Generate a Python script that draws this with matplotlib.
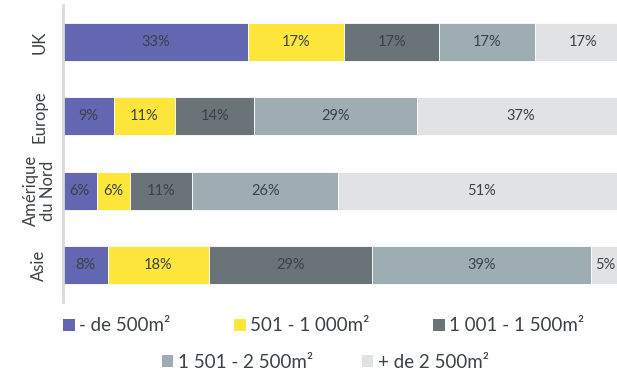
import matplotlib.pyplot as plt
from matplotlib.patches import Patch

# surface breakdown by region, in percent
regions = ['UK', 'Europe', 'Amérique\ndu Nord', 'Asie']
bands = ['- de 500m²', '501 - 1 000m²', '1 001 - 1 500m²',
         '1 501 - 2 500m²', '+ de 2 500m²']
under_500 = [33, 9, 6, 8]
from_501 = [17, 11, 6, 18]
from_1001 = [17, 14, 11, 29]
from_1501 = [17, 29, 26, 39]
over_2500 = [17, 37, 51, 5]

series = [under_500, from_501, from_1001, from_1501, over_2500]
colors = ['#6366b0', '#ffe63a', '#6a7478', '#9dadb2', '#e1e2e4']
text_color = '#3c4248'

plt.rcParams['font.family'] = ['Lato', 'DejaVu Sans']

fig = plt.figure(figsize=(6.17, 3.78), dpi=100)
ax = fig.add_axes([0.102, 0.201, 0.898, 0.786])

ypos = list(range(len(regions)))
left = [0] * len(regions)
for vals, col in zip(series, colors):
    bars = ax.barh(ypos, vals, left=left, height=0.51, color=col,
                   edgecolor='white', linewidth=0.6)
    for b, v in zip(bars, vals):
        ax.text(b.get_x() + b.get_width() / 2, b.get_y() + b.get_height() / 2,
                f'{v}%', ha='center', va='center', fontsize=10.5, color=text_color)
    left = [l + v for l, v in zip(left, vals)]

ax.set_xlim(0, 98.6)
ax.set_ylim(3.5, -0.5)
ax.set_yticks(ypos)
ax.set_yticklabels(regions, rotation=90, va='center', ha='center',
                   fontsize=12, color=text_color, linespacing=1.05)
ax.tick_params(axis='y', length=0, pad=17)
ax.set_xticks([])
for side in ['top', 'right', 'bottom']:
    ax.spines[side].set_visible(False)
ax.spines['left'].set_color('#d9d9d9')
ax.spines['left'].set_linewidth(2)

handles = [Patch(facecolor=c, edgecolor='none') for c in colors]
leg_kw = dict(frameon=False, fontsize=13.5, handlelength=0.6, handleheight=0.6,
              handletextpad=0.25, labelcolor=text_color)
fig.legend(handles[:3], bands[:3], loc='center', ncol=3, columnspacing=3.4,
           bbox_to_anchor=(0.525, 0.138), **leg_kw)
fig.legend(handles[3:], bands[3:], loc='center', ncol=2, columnspacing=2.6,
           bbox_to_anchor=(0.527, 0.042), **leg_kw)

fig.savefig('out.png', dpi=100)
